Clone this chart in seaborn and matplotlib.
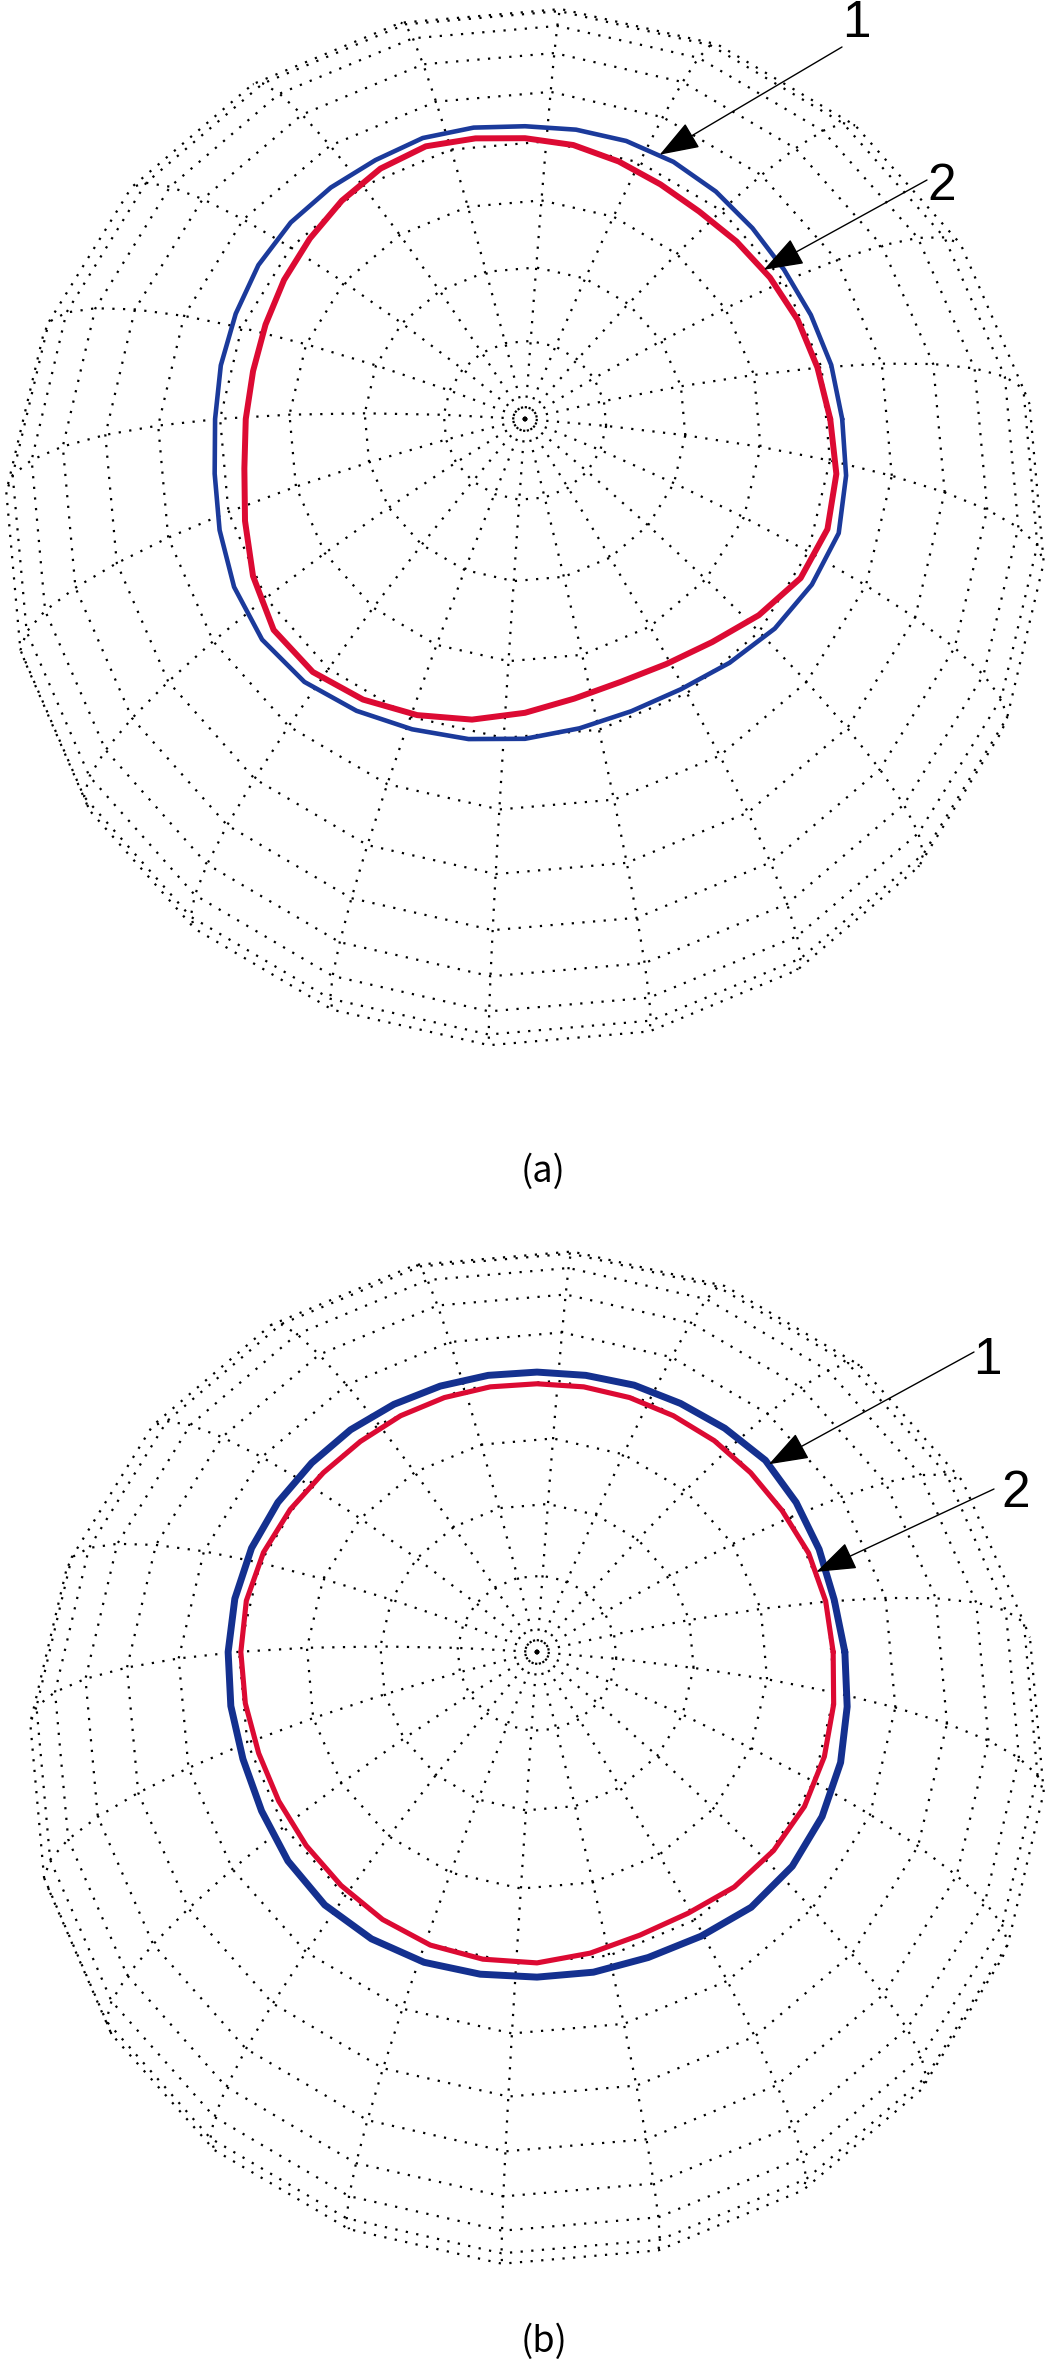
import numpy as np
import pandas as pd
import matplotlib
matplotlib.use("Agg")
import matplotlib.pyplot as plt
import seaborn as sns

# wire sphere like MATLAB sphere(20): colatitude / longitude grid in degrees
GRID_COLAT = list(range(0, 181, 9))
GRID_LON = [-4 + 18 * k for k in range(21)]
TILT = 12.0  # view elevation away from the pole, degrees

# closed curves: distance from the pole (in sphere radii) at these screen angles
ANGLES = list(range(0, 360, 10))
A_CURVE1 = [.610, .598, .585, .575, .571, .571, .571, .569, .565, .563, .569, .575,
            .575, .581, .588, .592, .592, .594, .596, .606, .625, .646, .660, .660,
            .648, .635, .625, .615, .604, .598, .600, .612, .627, .637, .642, .627]
A_CURVE2 = [.587, .571, .558, .544, .531, .521, .521, .527, .535, .540, .548, .558,
            .556, .548, .540, .535, .531, .531, .537, .548, .573, .604, .631, .635,
            .623, .606, .587, .565, .546, .538, .544, .560, .587, .612, .619, .608]
B_CURVE1 = [.606, .594, .591, .589, .587, .575, .565, .559, .553, .551, .553, .557,
            .563, .571, .579, .589, .598, .604, .608, .612, .616, .626, .640, .650,
            .652, .650, .644, .640, .640, .640, .646, .656, .656, .648, .636, .620]
B_CURVE2 = [.583, .577, .569, .557, .549, .543, .537, .533, .530, .528, .530, .533,
            .537, .541, .549, .561, .573, .581, .583, .583, .583, .587, .593, .600,
            .608, .614, .614, .612, .602, .593, .594, .604, .608, .608, .602, .593]

PANEL_LABELS = ["(a)", "(b)"]
CURVE_LABELS = ["1", "2"]

W, H = 1053, 2361
PANELS = [
    dict(top=0, bottom=1180, pole=(525, 419), R=520, curves=(A_CURVE1, A_CURVE2),
         blue="#1B3A9B", blue_lw=3.3, red_lw=4.3,
         tip_ang=(63, 32), tails=((842, 47), (927, 180)),
         digits=((856, 37), (942, 200)), label=(543, 1182)),
    dict(top=1180, bottom=2361, pole=(537, 1652), R=508, curves=(B_CURVE1, B_CURVE2),
         blue="#14308F", blue_lw=5.0, red_lw=3.7,
         tip_ang=(39, 16), tails=((974, 1352), (994, 1489)),
         digits=((987, 1374), (1016, 1507)), label=(544, 2352)),
]
RED = "#DC0A33"


def project(colat, lon):
    th, ph, t = np.radians(colat), np.radians(lon), np.radians(TILT)
    px = np.sin(th) * np.cos(ph)
    py = np.sin(th) * np.sin(ph)
    pz = np.cos(th)
    return px, py * np.cos(t) + pz * np.sin(t), -py * np.sin(t) + pz * np.cos(t)


def edge_runs(flags, cyclic):
    # group visible edges into vertex index runs
    n = len(flags)
    if cyclic and all(flags):
        return [list(range(n + 1))]
    start = flags.index(False) + 1 if cyclic else 0
    runs, cur = [], []
    for k in range(n):
        e = (start + k) % n if cyclic else k
        if flags[e]:
            if not cur:
                cur = [e]
            cur.append(e + 1)
        elif cur:
            runs.append(cur)
            cur = []
    if cur:
        runs.append(cur)
    return runs


def draw_mesh(ax):
    colat = np.array(GRID_COLAT, float)
    lon = np.array(GRID_LON, float)
    TH, PH = np.meshgrid(colat, lon, indexing="ij")
    X, Y, _ = project(TH, PH)
    cth = (colat[:-1] + colat[1:]) / 2
    cph = (lon[:-1] + lon[1:]) / 2
    _, _, face = project(*np.meshgrid(cth, cph, indexing="ij"))
    nr, nm = face.shape
    dots = dict(color="black", lw=1.6, ls=(0, (1, 3.8)), solid_capstyle="butt")
    for i in range(1, nr):
        flags = [max(face[i - 1, j], face[i, j]) > 0 for j in range(nm)]
        for run in edge_runs(flags, True):
            ax.plot(X[i, run], Y[i, run], **dots)
    for j in range(nm):
        flags = [max(face[i, j - 1], face[i, j]) > 0 for i in range(nr)]
        for run in edge_runs(flags, False):
            ax.plot(X[run, j], Y[run, j], **dots)


sns.set_theme(style="white")
plt.rcParams["font.family"] = ["Noto Sans CJK SC", "DejaVu Sans"]

fig = plt.figure(figsize=(W / 100, H / 100), dpi=100)
sin_t = np.sin(np.radians(TILT))

for p, name in zip(PANELS, PANEL_LABELS):
    R = p["R"]
    cx, cy = p["pole"][0], p["pole"][1] + R * sin_t
    ax = fig.add_axes([0, 1 - p["bottom"] / H, 1, (p["bottom"] - p["top"]) / H])
    ax.set_xlim(-cx / R, (W - cx) / R)
    ax.set_ylim((cy - p["bottom"]) / R, (cy - p["top"]) / R)
    ax.set_axis_off()

    def to_data(x, y):
        return (x - cx) / R, (cy - y) / R

    draw_mesh(ax)

    ang = np.radians(ANGLES + [ANGLES[0]])
    for radii, color, lw in zip(p["curves"], [p["blue"], RED], [p["blue_lw"], p["red_lw"]]):
        r = np.array(radii + [radii[0]])
        df = pd.DataFrame({"x": r * np.cos(ang), "y": sin_t + r * np.sin(ang)})
        sns.lineplot(data=df, x="x", y="y", sort=False, estimator=None, color=color,
                     lw=lw, ax=ax, zorder=5)

    for radii, a, tail, dig, txt in zip(p["curves"], p["tip_ang"], p["tails"], p["digits"], CURVE_LABELS):
        rr = np.interp(a, ANGLES + [360], radii + [radii[0]])
        tip = (rr * np.cos(np.radians(a)), sin_t + rr * np.sin(np.radians(a)))
        ax.annotate("", xy=tip, xytext=to_data(*tail), zorder=6,
                    arrowprops=dict(arrowstyle="-|>,head_length=1.4,head_width=0.5",
                                    mutation_scale=18, lw=1.0, color="black",
                                    shrinkA=0, shrinkB=0))
        ax.text(*to_data(*dig), txt, ha="center", va="baseline", fontsize=37,
                family=["Liberation Sans", "DejaVu Sans"], color="black")

    ax.text(*to_data(*p["label"]), name, ha="center", va="baseline", fontsize=26, color="black")
    ax.set_xlabel("")
    ax.set_ylabel("")

fig.savefig("out.png", dpi=100)
